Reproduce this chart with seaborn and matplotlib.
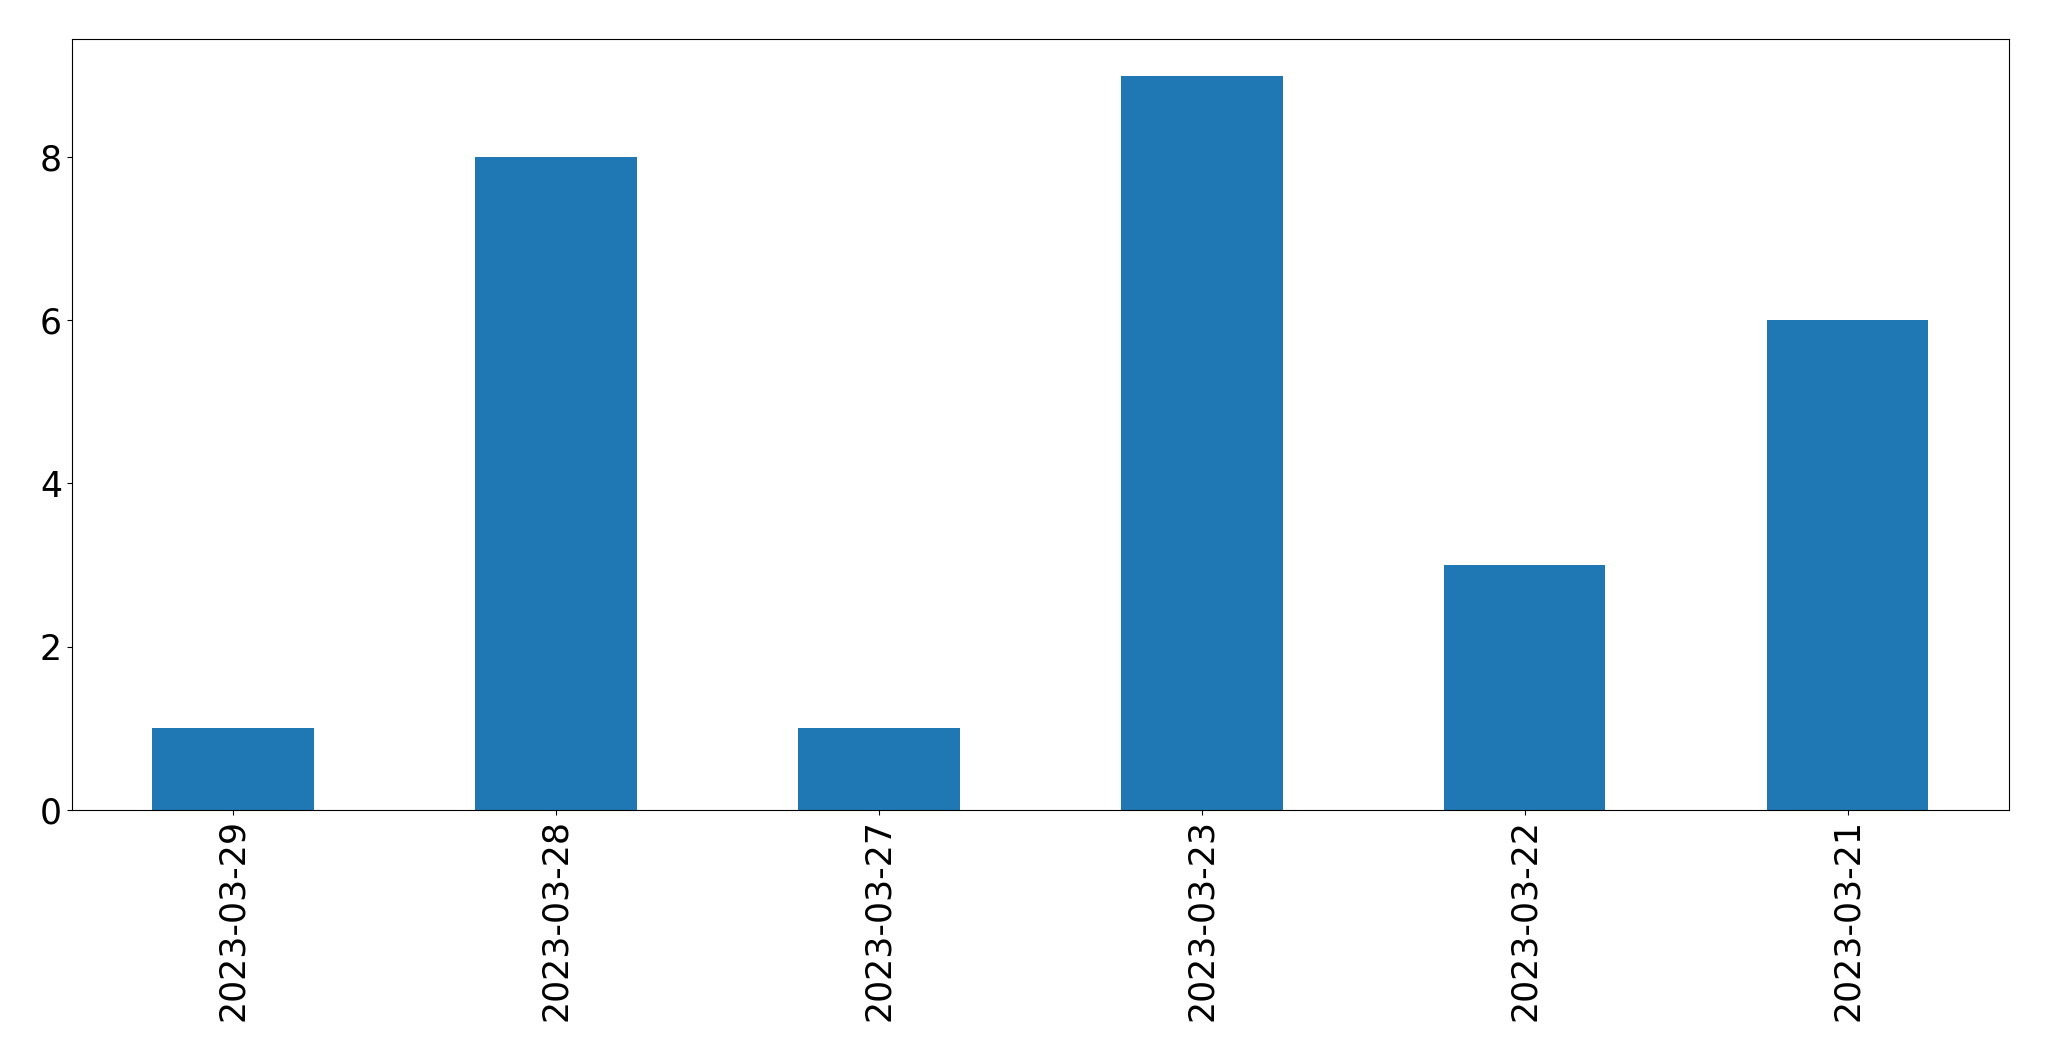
import matplotlib
matplotlib.use('Agg')
import matplotlib.pyplot as plt
import seaborn as sns
import pandas as pd

# dates as shown left to right, and their counts
dates = ['2023-03-29', '2023-03-28', '2023-03-27', '2023-03-23', '2023-03-22', '2023-03-21']
counts = [1, 8, 1, 9, 3, 6]

df = pd.DataFrame({'date': dates, 'count': counts})

fig, ax = plt.subplots(figsize=(20.49, 10.61), dpi=100)
sns.barplot(data=df, x='date', y='count', order=dates, color='#1f77b4',
            saturation=1, width=0.5, ax=ax)

ax.set_xlim(-0.5, len(dates) - 0.5)
ax.set_ylim(0, max(counts) * 1.05)
ax.set_xlabel('')
ax.set_ylabel('')
ax.tick_params(axis='both', labelsize=25)
plt.setp(ax.get_xticklabels(), rotation=90)

plt.subplots_adjust(left=0.035, right=0.9805, top=0.963, bottom=0.237)
plt.savefig('out.png', dpi=100)
plt.close()
